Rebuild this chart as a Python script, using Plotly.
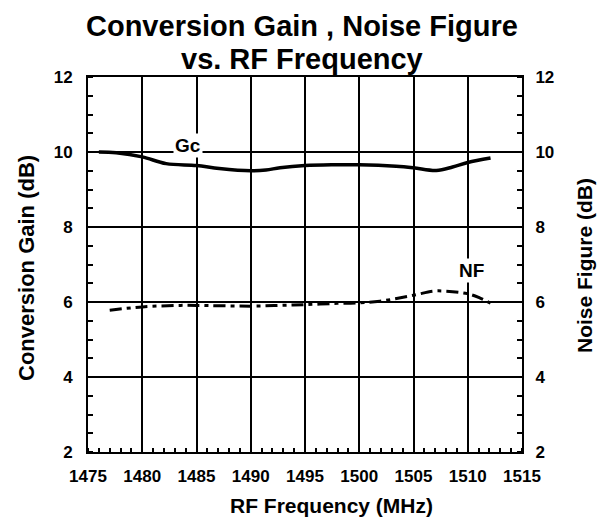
import plotly.graph_objects as go

# ---- data ----
gc_freq = [1476.0, 1477.6, 1480.0, 1482.2, 1485.0, 1487.1, 1490.0, 1491.4, 1492.7,
           1495.0, 1497.6, 1500.0, 1503.4, 1505.0, 1507.1, 1508.6, 1510.0, 1512.1]
gc_vals = [10.00, 9.98, 9.87, 9.69, 9.64, 9.56, 9.50, 9.52, 9.58,
           9.64, 9.66, 9.66, 9.62, 9.58, 9.51, 9.60, 9.72, 9.84]

nf_freq = [1477.0, 1480.0, 1483.5, 1485.0, 1490.0, 1492.7, 1495.0, 1497.6, 1500.0,
           1501.9, 1505.0, 1506.8, 1508.0, 1510.0, 1511.1, 1512.1]
nf_vals = [5.78, 5.87, 5.91, 5.91, 5.89, 5.91, 5.93, 5.96, 5.98,
           6.02, 6.18, 6.29, 6.29, 6.22, 6.11, 5.97]

x_ticks = [1475, 1480, 1485, 1490, 1495, 1500, 1505, 1510, 1515]
y_ticks = [2, 4, 6, 8, 10, 12]

title_lines = ["Conversion Gain , Noise Figure", "vs. RF Frequency"]
x_title = "RF Frequency (MHz)"
y_title = "Conversion Gain (dB)"
y2_title = "Noise Figure (dB)"

FONT = "Liberation Sans, Arial, sans-serif"
W, H = 604, 523
L, R, T, B = 88, 82, 77, 71
PW, PH = W - L - R, H - T - B


def px_x(px):  # pixel -> paper x
    return (px - L) / PW


def px_y(py):  # pixel -> paper y
    return (H - B - py) / PH


fig = go.Figure()
fig.add_trace(go.Scatter(x=gc_freq, y=gc_vals, mode="lines", line_shape="spline",
                         line=dict(color="black", width=3.5), name="Gc",
                         showlegend=False))
fig.add_trace(go.Scatter(x=nf_freq, y=nf_vals, mode="lines", line_shape="spline",
                         line=dict(color="black", width=3, dash="12px,5px,4px,5px"),
                         name="NF", yaxis="y2", showlegend=False))

axis_font = dict(family=FONT, size=17, color="black", weight="bold")

fig.update_layout(
    width=W, height=H,
    margin=dict(l=L, r=R, t=T, b=B, autoexpand=False),
    paper_bgcolor="white", plot_bgcolor="white",
    font=dict(family=FONT, color="black"),
    xaxis=dict(range=[1475, 1515], tickvals=x_ticks, ticks="", automargin=False,
               showgrid=True, gridcolor="black", gridwidth=1.5,
               showline=True, linecolor="black", linewidth=2, mirror=True,
               zeroline=False, tickfont=axis_font, ticklabelstandoff=8,
               minor=dict(dtick=1, ticks="inside", ticklen=4, tickcolor="black",
                          tickwidth=1.5, showgrid=False)),
    yaxis=dict(range=[2, 12], tickvals=y_ticks, ticks="", automargin=False,
               showgrid=True, gridcolor="black", gridwidth=1.5,
               showline=True, linecolor="black", linewidth=2,
               zeroline=False, tickfont=axis_font, ticklabelstandoff=10,
               minor=dict(dtick=0.5, ticks="inside", ticklen=5, tickcolor="black",
                          tickwidth=1.5, showgrid=False)),
    yaxis2=dict(range=[2, 12], tickvals=y_ticks, ticks="", overlaying="y", side="right",
                automargin=False,
                showgrid=False, showline=True, linecolor="black", linewidth=2,
                zeroline=False, tickfont=axis_font, ticklabelstandoff=8,
                minor=dict(dtick=0.5, ticks="inside", ticklen=5, tickcolor="black",
                           tickwidth=1.5, showgrid=False)),
)

# title lines
for txt, ypx in zip(title_lines, [26, 59]):
    fig.add_annotation(text=txt, xref="paper", yref="paper", x=px_x(302), y=px_y(ypx),
                       showarrow=False, xanchor="center", yanchor="middle",
                       font=dict(family=FONT, size=29, color="black", weight="bold"))

# axis titles
fig.add_annotation(text=x_title, xref="paper", yref="paper", x=px_x(331), y=px_y(505),
                   showarrow=False, xanchor="center", yanchor="middle",
                   font=dict(family=FONT, size=21, color="black", weight="bold"))
fig.add_annotation(text=y_title, xref="paper", yref="paper", x=px_x(26), y=px_y(268),
                   showarrow=False, xanchor="center", yanchor="middle", textangle=-90,
                   font=dict(family=FONT, size=22, color="black", weight="bold"))
fig.add_annotation(text=y2_title, xref="paper", yref="paper", x=px_x(584), y=px_y(266),
                   showarrow=False, xanchor="center", yanchor="middle", textangle=-90,
                   font=dict(family=FONT, size=21, color="black", weight="bold"))

# curve labels
fig.add_annotation(text="Gc", x=1484.2, y=10.18, xref="x", yref="y", showarrow=False,
                   bgcolor="white", borderpad=1,
                   font=dict(family=FONT, size=19, color="black", weight="bold"))
fig.add_annotation(text="NF", x=1510.3, y=6.83, xref="x", yref="y", showarrow=False,
                   bgcolor="white", borderpad=1,
                   font=dict(family=FONT, size=19, color="black", weight="bold"))

fig.write_html("out.html", config={"displayModeBar": False},
               post_script="document.body.style.margin='0';document.body.style.overflow='hidden';")
